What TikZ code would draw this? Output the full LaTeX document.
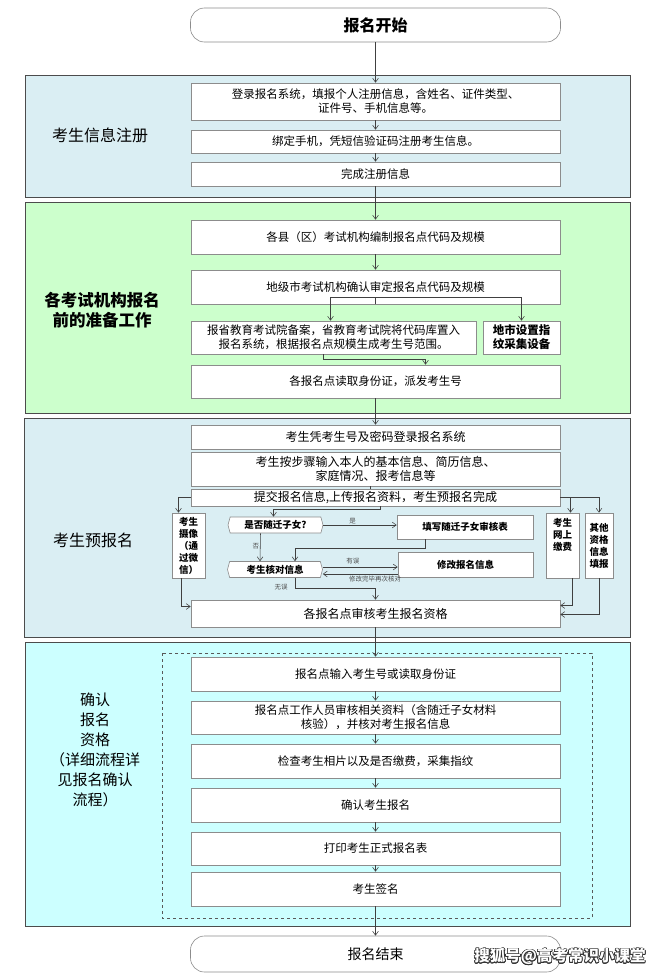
\documentclass[tikz,border=0pt]{standalone}
\usepackage{fontspec}
\setmainfont{Noto Sans CJK SC}
\newfontfamily\cjk{Noto Sans CJK SC}
\usepackage[copies]{contour}
\usetikzlibrary{arrows.meta,positioning,calc,shapes.symbols}

\definecolor{secblue}{HTML}{DAEEF3}
\definecolor{secgreen}{HTML}{CCFFCC}
\definecolor{seccyan}{HTML}{CCFFFF}

\begin{document}
\begin{tikzpicture}[
  x=1pt, y=-1pt,
  font=\cjk\fontsize{11.5}{14}\selectfont,
  sec/.style={draw=black!70, line width=0.9pt},
  box/.style={draw=black!45, fill=white, line width=0.6pt, minimum width=369pt,
               inner sep=1pt, align=center},
  tall/.style={box, minimum width=33pt, minimum height=65pt,
               font=\cjk\bfseries\fontsize{9.5}{12}\selectfont},
  hexa/.style={signal, signal to=east and west, signal pointer angle=150,
               draw=black!45, fill=white, line width=0.6pt, minimum width=95pt,
               minimum height=16pt, inner sep=1pt,
               font=\cjk\bfseries\fontsize{9.5}{11}\selectfont},
  pill/.style={draw=black!45, fill=white, line width=0.6pt, rounded corners=14pt,
               minimum width=370pt},
  ar/.style={-{Straight Barb[length=1.4mm, width=2mm]}, draw=black!75, line width=0.55pt},
  ln/.style={draw=black!75, line width=0.55pt},
  lbl/.style={font=\cjk\fontsize{6.5}{7}\selectfont, text=black!70, inner sep=1pt},
  side/.style={font=\cjk\fontsize{16}{20}\selectfont, align=center}]

\useasboundingbox (0,0) rectangle (659,974);

% section panels
\filldraw[sec, fill=secblue]  (25,75)  rectangle (630,197);
\filldraw[sec, fill=secgreen] (25,202) rectangle (630,413);
\filldraw[sec, fill=secblue]  (24,418) rectangle (630,637);
\filldraw[sec, fill=seccyan]  (25,642) rectangle (630,926);
\draw[black!65, dashed, line width=0.8pt] (162,653) rectangle (592,918);

% side labels
\node[side] (l1) at (100,135) {考生信息注册};
\node[side, font=\cjk\bfseries\fontsize{16.5}{20}\selectfont] (l2) at (102,310)
     {各考试机构报名\\前的准备工作};
\node[side] (l3) at (93,540) {考生预报名};
\node[side, font=\cjk\fontsize{15}{20}\selectfont] (l4) at (95,750)
     {确认\\报名\\资格\\（详细流程详\\见报名确认\\流程）};

% start
\node[pill, minimum height=34pt, font=\cjk\bfseries\fontsize{16}{18}\selectfont]
     (start) at (375.5,25) {报名开始};

% registration
\node[box, minimum height=37pt] (reg1) at (375.5,101.5)
     {登录报名系统，填报个人注册信息，含姓名、证件类型、\\证件号、手机信息等。};
\node[box, minimum height=23pt] (reg2) at (375.5,141.5) {绑定手机，凭短信验证码注册考生信息。};
\node[box, minimum height=24pt] (reg3) at (375.5,174) {完成注册信息};
\draw[ar] (start) -- (reg1);
\draw[ar] (reg1) -- (reg2);
\draw[ar] (reg2) -- (reg3);

% preparation
\node[box, minimum height=34pt] (prep1) at (375.5,237) {各县（区）考试机构编制报名点代码及规模};
\node[box, minimum height=34pt] (prep2) at (375.5,287) {地级市考试机构确认审定报名点代码及规模};
\node[box, minimum width=285pt, minimum height=33pt] (prep3) at (333.5,337.5)
     {报省教育考试院备案，省教育考试院将代码库置入\\报名系统，根据报名点规模生成考生号范围。};
\node[box, minimum width=77pt, minimum height=33pt,
      font=\cjk\bfseries\fontsize{11.5}{14}\selectfont] (prep4) at (521.5,337.5)
     {地市设置指\\纹采集设备};
\node[box, minimum height=33pt] (prep5) at (375.5,381.5) {各报名点读取身份证，派发考生号};
\draw[ar] (reg3) -- (prep1);
\draw[ar] (prep1) -- (prep2);
\coordinate (split) at ($(prep2.south)+(0,-7)$);
\draw[ar] (prep2.south) -- (split) -| ([xshift=-3pt]prep3.north);
\draw[ar] (split) -| (prep4.north);
\draw[ar] ([xshift=-10pt]prep3.south) -- ++(0,5) -| ([xshift=50pt]prep5.north);

% pre-registration
\node[box, minimum height=24pt, font=\cjk\fontsize{12}{14}\selectfont] (login) at (375.5,437)
     {考生凭考生号及密码登录报名系统};
\node[box, minimum height=34pt, font=\cjk\fontsize{12}{14}\selectfont] (input) at (375.5,469)
     {考生按步骤输入本人的基本信息、简历信息、\\家庭情况、报考信息等};
\node[box, minimum height=17pt, font=\cjk\fontsize{12}{14}\selectfont] (submit) at (375.5,497.5)
     {提交报名信息,上传报名资料，考生预报名完成};
\node[tall] (cam) at (188.5,545.5) {考生\\摄像\\（通\\过微\\信）};
\node[hexa] (fam) at (275.5,525) {是否随迁子女?};
\node[box, minimum width=136pt, minimum height=24pt,
      font=\cjk\bfseries\fontsize{9.5}{11}\selectfont] (famform) at (465,527) {填写随迁子女审核表};
\node[hexa] (chk) at (275,569.5) {考生核对信息};
\node[box, minimum width=135pt, minimum height=25pt,
      font=\cjk\bfseries\fontsize{9.5}{11}\selectfont] (edit) at (465.5,564.5) {修改报名信息};
\node[tall] (pay) at (562.5,545.5) {考生\\网上\\缴费\\[10pt]};
\node[tall, minimum width=28pt] (other) at (599,545.5) {其他\\资格\\信息\\填报};
\node[box, minimum height=27pt, font=\cjk\fontsize{12}{14}\selectfont] (audit) at (375.5,613.5)
     {各报名点审核考生报名资格};
\draw[ar] (prep5) -- (login);
\draw[ln] ([xshift=-5pt]input.south) -- ([xshift=-5pt]submit.north);
\draw[ar] (submit.west) -| ([xshift=-10pt]cam.north);
\draw[ar] ([xshift=5pt]submit.south) -- ++(0,3) -| ([xshift=-2pt]fam.north);
\draw[ar] (submit.east) -| (other.north);
\draw[ar] (submit.east -| pay.north) ++(8pt,0) -- ([xshift=8pt]pay.north);
\draw[ar] (fam.east) -- (famform.west |- fam.east) node[lbl, above, pos=.4] {是};
\draw[ar] ([xshift=-15pt]fam.south) -- ([xshift=-15pt]chk.north)
          node[lbl, left, pos=.45] {否};
\draw[ar] ([xshift=-40pt]famform.south) -- ++(0,9) -| ([xshift=20pt]chk.north);
\draw[ar] ([yshift=2.5pt]chk.east) -- ([yshift=2.5pt]chk.east -| edit.west)
          node[lbl, above, pos=.4, yshift=2pt] {有误};
\draw[ar] ([yshift=-4.5pt]chk.east -| edit.west) -- ([yshift=-4.5pt]chk.east)
          node[lbl, below, pos=.3, yshift=-1pt] {修改完毕再次核对};
\draw[ar] ([xshift=20pt]chk.south) -- ++(0,10) node[lbl, left, pos=.9, xshift=-6pt] {无误}
          -| (audit.north);
\draw[ar] ([xshift=-7pt]cam.south) |- ([yshift=7pt]audit.west);
\draw[ar] ([xshift=10pt]pay.south) |- ([yshift=8pt]audit.east);
\draw[ar] (other.south) |- ([yshift=-1pt]audit.east);

% confirmation
\node[box, minimum height=34pt] (cf1) at (375.5,674) {报名点输入考生号或读取身份证};
\node[box, minimum height=33pt] (cf2) at (375.5,717.5)
     {报名点工作人员审核相关资料（含随迁子女材料\\核验），并核对考生报名信息};
\node[box, minimum height=34pt] (cf3) at (375.5,761) {检查考生相片以及是否缴费，采集指纹};
\node[box, minimum height=34pt] (cf4) at (375.5,805) {确认考生报名};
\node[box, minimum height=33pt] (cf5) at (375.5,848.5) {打印考生正式报名表};
\node[box, minimum height=34pt] (cf6) at (375.5,889) {考生签名};
\draw[ar] (audit) -- (cf1);
\foreach \a/\b in {cf1/cf2, cf2/cf3, cf3/cf4, cf4/cf5, cf5/cf6}
  \draw[ar] (\a) -- (\b);

% end
\node[pill, minimum height=36pt, font=\cjk\fontsize{14}{16}\selectfont]
     (finish) at (375.5,954) {报名结束};
\draw[ar] (cf6) -- (finish);

\node[font=\cjk\bfseries\fontsize{15.5}{17}\selectfont, text=white] (mark) at (560,957)
     {\contourlength{0.7pt}\contour{black!80}{搜狐号@高考常识小课堂}};
\end{tikzpicture}
\end{document}
